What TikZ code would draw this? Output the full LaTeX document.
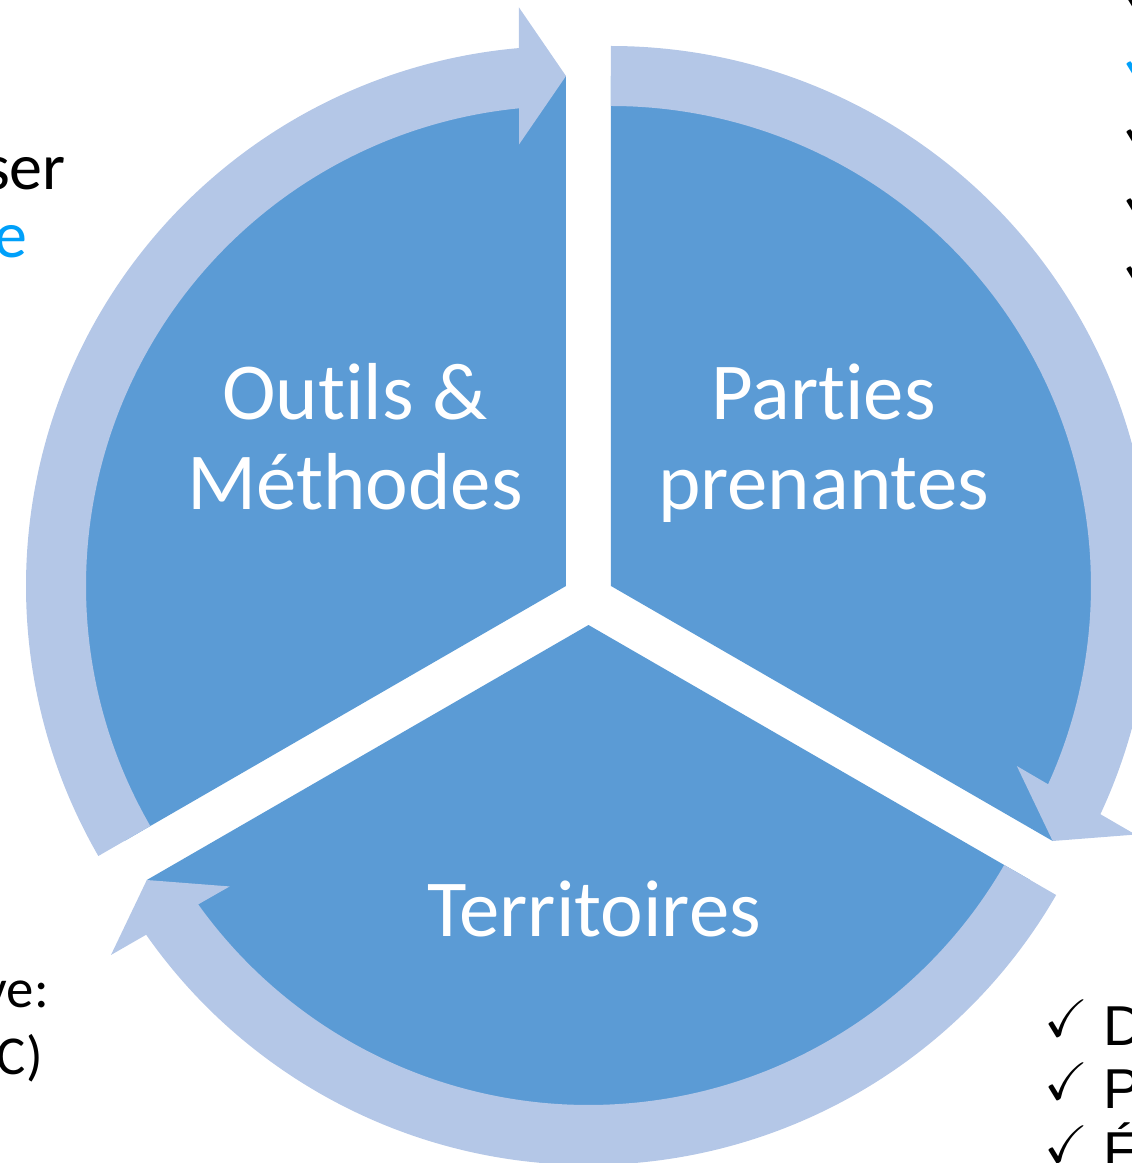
\documentclass[tikz,border=0pt]{standalone}
\usepackage{amssymb}
\usepackage{fontspec}
\setmainfont[Ligatures=NoCommon]{Carlito}
\newfontfamily\arialfont{Liberation Sans}
\usetikzlibrary{calc}
\definecolor{pieblue}{RGB}{91,155,213}
\definecolor{ringblue}{RGB}{180,199,231}
\definecolor{linkblue}{RGB}{0,160,250}
\newcommand{\chk}{\raisebox{2.3pt}{\fontsize{15}{15}\selectfont$\checkmark$}}
\tikzset{
  piece/.style={fill=pieblue},
  ring/.style={fill=ringblue},
  piecetext/.style={text=white, inner sep=0pt, anchor=base, font=\fontsize{23}{26.5}\selectfont},
  sidetext/.style={inner sep=0pt, anchor=base east, font=\fontsize{18.8}{22}\selectfont},
  lowtext/.style={inner sep=0pt, anchor=base east, font=\fontsize{15.6}{18}\selectfont},
  checkrow/.style={inner sep=0pt, anchor=base west, font=\arialfont\fontsize{16}{19}\selectfont},
}

\begin{document}
\begin{tikzpicture}
  \useasboundingbox (-5.885,-5.64) rectangle (5.435,5.99);
  \clip (-5.885,-5.64) rectangle (5.435,5.99);
  \coordinate (L) at (-0.225, 0.13);
  \coordinate (R) at ( 0.225, 0.13);
  \coordinate (B) at ( 0, -0.26);
  % pie pieces
  \fill[piece] (L) -- ($(L)+(210:5.1)$) arc[start angle=210, end angle=90, radius=5.1] -- cycle;
  \fill[piece] (R) -- ($(R)+(90:5.1)$) arc[start angle=90, end angle=-30, radius=5.1] -- cycle;
  \fill[piece] (B) -- ($(B)+(-30:5.1)$) arc[start angle=-30, end angle=-150, radius=5.1] -- cycle;
  % circular arrows
  \fill[ring] ($(L)+(210:4.8)$) -- ($(L)+(210:5.4)$) arc[start angle=210, end angle=95, radius=5.4]
    -- ($(L)+(90:5.785)+(180:0.47)$) -- ($(L)+(90:5.1)$) -- ($(L)+(90:4.415)+(180:0.47)$)
    -- ($(L)+(95.6:4.8)$) arc[start angle=95.6, end angle=210, radius=4.8] -- cycle;
  \fill[ring] ($(R)+(90:4.8)$) -- ($(R)+(90:5.4)$) arc[start angle=90, end angle=-25, radius=5.4]
    -- ($(R)+(-30:5.785)+(60:0.47)$) -- ($(R)+(-30:5.1)$) -- ($(R)+(-30:4.415)+(60:0.47)$)
    -- ($(R)+(-24.4:4.8)$) arc[start angle=-24.4, end angle=90, radius=4.8] -- cycle;
  \fill[ring] ($(B)+(-30:4.8)$) -- ($(B)+(-30:5.4)$) arc[start angle=-30, end angle=-145, radius=5.4]
    -- ($(B)+(-150:5.785)+(-60:0.47)$) -- ($(B)+(-150:5.1)$) -- ($(B)+(-150:4.415)+(-60:0.47)$)
    -- ($(B)+(-144.4:4.8)$) arc[start angle=-144.4, end angle=-30, radius=4.8] -- cycle;
  % labels
  \node[piecetext] (outils) at (-2.335, 1.79) {Outils \&};
  \node[piecetext] (methodes) at (-2.335, 0.90) {Méthodes};
  \node[piecetext] (parties) at (2.35, 1.79) {Parties};
  \node[piecetext] (prenantes) at (2.35, 0.90) {prenantes};
  \node[piecetext] (territoires) at (0.055, -3.37) {Territoires};
  % cut text on the left
  \node[sidetext] (ser) at (-5.22, 4.09) {ser};
  \node[sidetext, text=linkblue] (lien) at (-5.60, 3.41) {e};
  \node[lowtext] (ve) at (-5.39, -4.08) {ve:};
  \node[lowtext] (cpar) at (-5.45, -4.75) {C)};
  % check marks on the right
  \node[checkrow] (chkA) at (5.335, 5.81) {\chk};
  \node[checkrow, text=linkblue] (chkB) at (5.335, 5.14) {\chk};
  \node[checkrow] (chkC) at (5.335, 4.46) {\chk};
  \node[checkrow] (chkD) at (5.335, 3.77) {\chk};
  \node[checkrow] (chkE) at (5.335, 3.09) {\chk};
  \node[checkrow] (rowD) at (4.55, -4.46) {\chk{} D};
  \node[checkrow] (rowP) at (4.55, -5.09) {\chk{} P};
  \node[checkrow] (rowE) at (4.55, -5.72) {\chk{} É};
\end{tikzpicture}
\end{document}
